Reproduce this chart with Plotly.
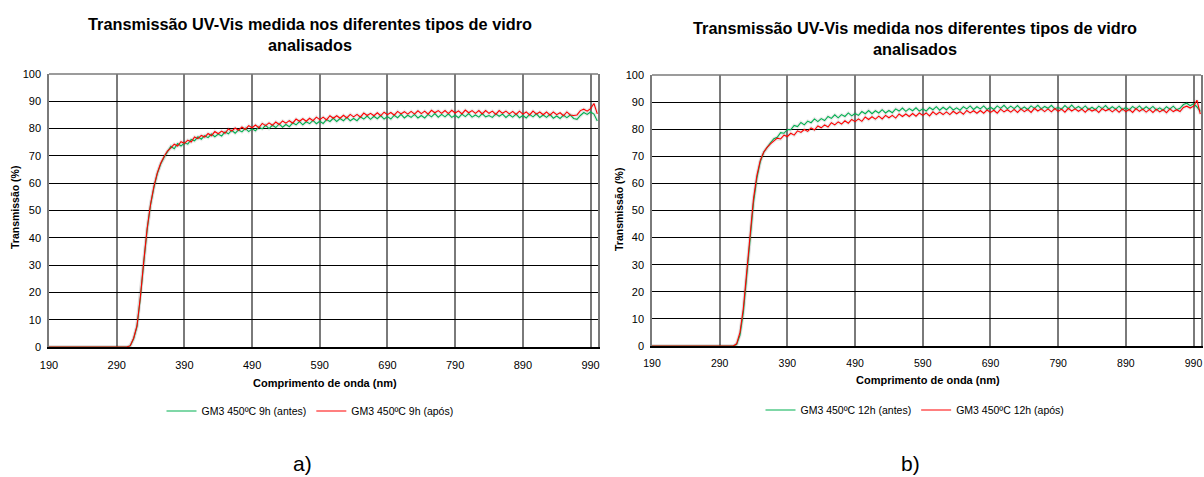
import plotly.graph_objects as go

# ---------------- data ----------------
wl_rise = [190, 300, 305, 310, 315, 320, 325, 330, 335, 340, 345, 350, 355, 360, 365]
wl_flat = list(range(370, 1001, 5))
wavelength = wl_rise + wl_flat

x_ticks = [190, 290, 390, 490, 590, 690, 790, 890, 990]
y_ticks = [0, 10, 20, 30, 40, 50, 60, 70, 80, 90, 100]

# a) GM3 450ºC 9h
a_antes_rise = [0, 0, 0, 0.4, 3.0, 7.5, 18.0, 31.0, 43.0, 52.0, 58.5, 63.5, 67.0, 69.5, 71.5]
a_antes_flat = [
    73.5, 72.6, 74.5, 73.6, 74.8, 74.3, 76.0, 75.5, 77.0, 76.1,
    77.4, 76.7, 78.0, 77.0, 78.0, 77.3, 78.8, 78.1, 79.4, 78.3,
    79.5, 78.8, 80.1, 78.9, 79.9, 79.2, 80.6, 79.9, 81.2, 80.0,
    81.2, 80.4, 81.7, 80.5, 81.5, 80.7, 82.1, 81.4, 82.6, 81.4,
    82.5, 81.8, 83.0, 81.8, 82.7, 81.9, 83.3, 82.6, 83.8, 82.6,
    83.7, 82.9, 84.1, 82.9, 83.7, 82.9, 84.3, 83.5, 84.6, 83.4,
    84.5, 83.6, 84.8, 83.5, 84.4, 83.5, 84.9, 84.0, 85.2, 83.9,
    84.9, 84.1, 85.2, 83.9, 84.8, 83.9, 85.2, 84.3, 85.5, 84.2,
    85.2, 84.3, 85.4, 84.1, 84.9, 84.0, 85.3, 84.4, 85.5, 84.2,
    85.0, 84.2, 85.5, 84.3, 84.8, 84.1, 85.4, 84.5, 85.3, 84.1,
    85.1, 84.2, 85.3, 84.0, 84.8, 83.9, 85.2, 84.3, 85.4, 84.1,
    85.0, 84.1, 85.2, 83.8, 84.6, 83.7, 84.9, 84.0, 85.0, 83.7,
    83.4, 84.8, 85.9, 85.2, 86.1, 85.3, 82.8,
]
a_apos_rise = [0, 0, 0, 0.5, 3.2, 7.8, 18.4, 31.4, 43.4, 52.3, 58.8, 63.8, 67.3, 69.8, 71.8]
a_apos_flat = [
    72.9, 74.3, 73.6, 75.2, 74.6, 75.8, 75.1, 76.9, 76.3, 77.5,
    76.9, 78.2, 77.4, 78.9, 78.1, 79.1, 78.3, 79.9, 79.1, 80.2,
    79.4, 80.6, 79.7, 81.1, 80.3, 81.3, 80.3, 81.9, 81.1, 82.1,
    81.2, 82.4, 81.5, 82.8, 82.0, 82.9, 82.0, 83.5, 82.7, 83.6,
    82.7, 83.8, 82.9, 84.2, 83.3, 84.2, 83.2, 84.7, 83.8, 84.7,
    83.8, 84.9, 83.9, 85.2, 84.3, 85.2, 84.2, 85.7, 84.8, 85.6,
    84.7, 85.8, 84.7, 86.0, 85.1, 85.9, 84.9, 86.3, 85.4, 86.2,
    85.3, 86.3, 85.3, 86.5, 85.5, 86.4, 85.3, 86.7, 85.8, 86.6,
    85.6, 86.6, 85.5, 86.7, 85.7, 86.5, 85.4, 86.8, 85.8, 86.6,
    85.6, 86.6, 85.4, 86.6, 85.6, 86.4, 85.2, 86.6, 85.6, 86.4,
    85.4, 86.3, 85.2, 86.4, 85.3, 86.1, 85.0, 86.4, 85.3, 86.1,
    85.1, 86.1, 84.9, 86.1, 85.1, 85.8, 84.7, 86.1, 85.0, 84.8,
    85.0, 86.6, 87.1, 86.4, 87.3, 89.2, 85.4,
]

# b) GM3 450ºC 12h
b_antes_rise = [0, 0, 0, 0, 0.5, 4.0, 12.5, 26.0, 40.0, 53.0, 62.0, 68.0, 71.5, 73.5, 75.0]
b_antes_flat = [
    76.5, 77.0, 78.7, 78.5, 79.9, 79.8, 81.4, 81.0, 82.5, 81.6,
    83.0, 82.4, 83.8, 82.8, 83.9, 83.2, 84.7, 84.0, 85.3, 84.2,
    85.4, 84.7, 86.0, 84.9, 85.8, 85.1, 86.5, 85.7, 86.9, 85.7,
    86.8, 86.0, 87.2, 86.0, 86.9, 86.1, 87.5, 86.7, 87.8, 86.6,
    87.6, 86.8, 87.9, 86.7, 87.5, 86.7, 88.0, 87.2, 88.3, 87.0,
    88.1, 87.2, 88.3, 87.1, 87.9, 87.0, 88.3, 87.5, 88.6, 87.3,
    88.3, 87.5, 88.6, 87.3, 88.1, 87.3, 88.6, 87.7, 88.8, 87.5,
    88.5, 87.6, 88.7, 87.4, 88.2, 87.3, 88.6, 87.7, 88.8, 87.5,
    88.4, 87.7, 88.8, 87.5, 88.1, 87.4, 88.7, 87.6, 88.9, 87.6,
    88.4, 87.5, 88.6, 87.3, 88.1, 87.2, 88.5, 87.6, 88.7, 87.4,
    88.3, 87.4, 88.5, 87.2, 88.0, 87.1, 88.4, 87.5, 88.6, 87.3,
    88.3, 87.4, 88.4, 87.1, 87.9, 87.0, 88.3, 87.4, 88.5, 87.2,
    87.7, 89.1, 89.6, 88.7, 89.4, 88.2, 86.6,
]
b_apos_rise = [0, 0, 0, 0, 0.8, 5.0, 14.0, 28.0, 42.0, 54.5, 63.0, 68.5, 71.5, 73.3, 74.6]
b_apos_flat = [
    75.6, 76.7, 76.4, 77.8, 77.3, 78.5, 77.8, 79.4, 78.8, 79.9,
    79.2, 80.5, 79.7, 81.2, 80.5, 81.6, 80.8, 82.4, 81.6, 82.7,
    81.9, 83.1, 82.2, 83.6, 82.8, 83.8, 82.9, 84.5, 83.6, 84.6,
    83.7, 84.8, 83.8, 85.1, 84.2, 85.1, 84.1, 85.6, 84.7, 85.6,
    84.7, 85.8, 84.8, 86.0, 85.1, 86.0, 84.9, 86.4, 85.4, 86.3,
    85.4, 86.4, 85.4, 86.6, 85.7, 86.5, 85.5, 86.9, 86.0, 86.8,
    85.9, 86.9, 85.9, 87.1, 86.2, 87.0, 85.9, 87.4, 86.4, 87.2,
    86.3, 87.3, 86.2, 87.5, 86.5, 87.3, 86.2, 87.7, 86.7, 87.5,
    86.5, 87.5, 86.4, 87.6, 86.6, 87.4, 86.3, 87.7, 86.7, 87.5,
    86.6, 87.4, 86.3, 87.5, 86.7, 87.3, 86.2, 87.6, 86.8, 87.4,
    86.4, 87.4, 86.3, 87.5, 86.5, 87.3, 86.2, 87.6, 86.6, 87.4,
    86.3, 87.3, 86.2, 87.4, 86.4, 87.2, 86.1, 87.5, 86.5, 87.2,
    86.5, 88.0, 88.5, 87.8, 88.5, 90.7, 85.6,
]

a_antes = a_antes_rise + a_antes_flat
a_apos = a_apos_rise + a_apos_flat
b_antes = b_antes_rise + b_antes_flat
b_apos = b_apos_rise + b_apos_flat

names_a = ["GM3 450ºC 9h (antes)", "GM3 450ºC 9h (após)"]
names_b = ["GM3 450ºC 12h (antes)", "GM3 450ºC 12h (após)"]
title_text = "Transmissão UV-Vis medida nos diferentes tipos de vidro<br>analisados"
x_title = "Comprimento de onda (nm)"
y_title = "Transmissão (%)"

GREEN = "#00B050"
RED = "#FF0000"
SANS = "Liberation Sans, Arial, sans-serif"

# figure fills the whole 1204x477 window (page margin removed below)
W, H = 1204, 477

def px(x):
    return x / W

def py(y):
    return 1 - y / H

fig = go.Figure()

def add_pair(xa, ya, leg, yg, yr, names):
    # soft shadow like the Excel rendering
    for yy in (yg, yr):
        fig.add_trace(go.Scatter(x=wavelength, y=yy, mode="lines", xaxis=xa, yaxis=ya,
                                 line=dict(color="rgba(0,0,0,0.08)", width=3.5),
                                 showlegend=False, hoverinfo="skip"))
    fig.add_trace(go.Scatter(x=wavelength, y=yg, mode="lines", name=names[0],
                             xaxis=xa, yaxis=ya, legend=leg,
                             line=dict(color=GREEN, width=1.1)))
    fig.add_trace(go.Scatter(x=wavelength, y=yr, mode="lines", name=names[1],
                             xaxis=xa, yaxis=ya, legend=leg,
                             line=dict(color=RED, width=1.1)))

add_pair("x", "y", "legend", a_antes, a_apos, names_a)
add_pair("x2", "y2", "legend2", b_antes, b_apos, names_b)

def xaxis_cfg(domain, anchor, fs):
    return dict(domain=domain, anchor=anchor, range=[190, 1001],
                tickmode="array", tickvals=x_ticks, ticktext=[str(v) for v in x_ticks],
                showgrid=True, gridcolor="#7a7a7a", gridwidth=1.5,
                showline=True, linecolor="#000000", linewidth=1.5,
                ticks="", ticklabelstandoff=7, automargin=False,
                tickfont=dict(family=SANS, size=fs, color="#000"),
                zeroline=False, fixedrange=True)

def yaxis_cfg(domain, anchor):
    return dict(domain=domain, anchor=anchor, range=[0, 100],
                tickmode="array", tickvals=y_ticks,
                showgrid=True, gridcolor="#000000", gridwidth=1,
                showline=True, linecolor="#7a7a7a", linewidth=1.5, mirror=True,
                ticks="", ticklabelstandoff=4, automargin=False,
                tickfont=dict(family=SANS, size=11, color="#000"),
                zeroline=False, fixedrange=True)

fig.update_layout(
    width=W, height=H,
    margin=dict(l=0, r=0, t=0, b=0, pad=0, autoexpand=False),
    paper_bgcolor="white", plot_bgcolor="white",
    xaxis=xaxis_cfg([px(49), px(598)], "y", 11),
    yaxis=yaxis_cfg([py(347), py(74)], "x"),
    xaxis2=xaxis_cfg([px(652), px(1201)], "y2", 10.5),
    yaxis2=yaxis_cfg([py(346), py(75)], "x2"),
    legend=dict(orientation="h", x=px(310), y=py(411), xanchor="center", yanchor="middle",
                font=dict(family=SANS, size=10.5, color="#000"), bgcolor="rgba(0,0,0,0)",
                itemwidth=30, tracegroupgap=0),
    legend2=dict(orientation="h", x=px(915), y=py(410), xanchor="center", yanchor="middle",
                 font=dict(family=SANS, size=10.5, color="#000"), bgcolor="rgba(0,0,0,0)",
                 itemwidth=30, tracegroupgap=0),
    showlegend=True,
)

# top borders of the plot areas
for xr, yr in (("x domain", "y domain"), ("x2 domain", "y2 domain")):
    fig.add_shape(type="line", xref=xr, yref=yr, x0=0, x1=1, y0=1, y1=1,
                  line=dict(color="#7a7a7a", width=1.5))

ann = []
# chart titles
ann.append(dict(text=title_text, x=px(310), y=py(34), showarrow=False,
                font=dict(family=SANS, size=16.3, color="#000", weight="bold"),
                xanchor="center", yanchor="middle", align="center"))
ann.append(dict(text=title_text, x=px(915), y=py(39), showarrow=False,
                font=dict(family=SANS, size=16.3, color="#000", weight="bold"),
                xanchor="center", yanchor="middle", align="center"))
# axis titles
for xc, yc in ((325, 383), (928, 380)):
    ann.append(dict(text=x_title, x=px(xc), y=py(yc), showarrow=False,
                    font=dict(family=SANS, size=11, color="#000", weight="bold"),
                    xanchor="center", yanchor="middle"))
for xc, yc in ((15, 208), (619, 210)):
    ann.append(dict(text=y_title, x=px(xc), y=py(yc), showarrow=False, textangle=-90,
                    font=dict(family=SANS, size=10.5, color="#000", weight="bold"),
                    xanchor="center", yanchor="middle"))
# panel labels
ann.append(dict(text="a)", x=px(302), y=py(463), showarrow=False,
                font=dict(family=SANS, size=21, color="#000"), xanchor="center", yanchor="middle"))
ann.append(dict(text="b)", x=px(910), y=py(463), showarrow=False,
                font=dict(family=SANS, size=21, color="#000"), xanchor="center", yanchor="middle"))
for a in ann:
    a["xref"] = "paper"
    a["yref"] = "paper"
fig.update_layout(annotations=ann)

fig.write_html(
    "out.html",
    config={"displayModeBar": False},
    post_script="document.body.style.margin='0';document.body.style.overflow='hidden';",
)
